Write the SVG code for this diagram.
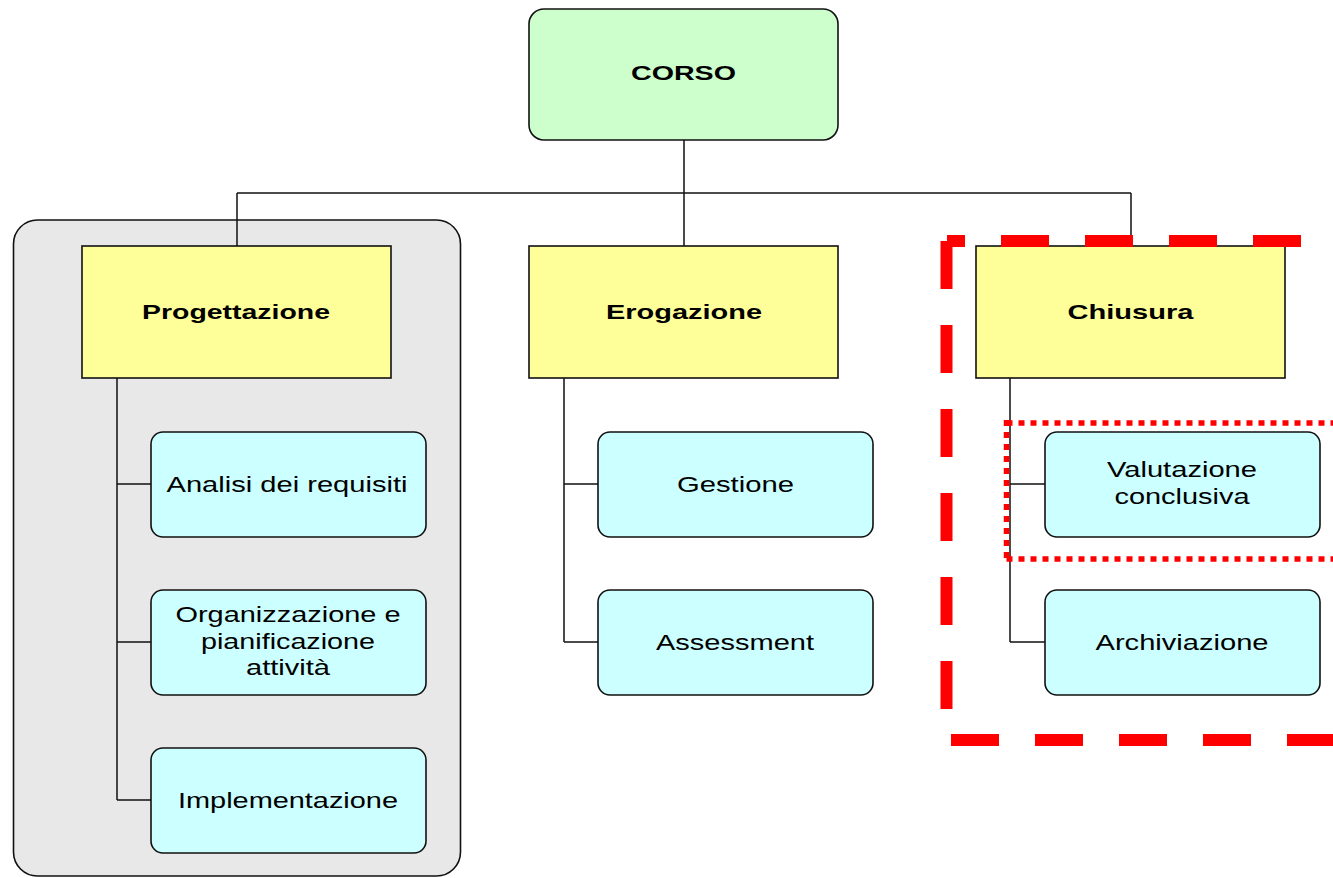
<svg xmlns="http://www.w3.org/2000/svg" width="1333" height="878" viewBox="0 0 1333 878">
<style>
.root{fill:#CCFFCC;stroke:#111;stroke-width:1.6}
.phase{fill:#FFFF99;stroke:#111;stroke-width:1.6}
.task{fill:#CCFFFF;stroke:#111;stroke-width:1.6}
.grp{fill:#E8E8E8;stroke:#111;stroke-width:1.6}
.b{font-family:"Liberation Sans",Arial,sans-serif;font-weight:bold;font-size:21px;fill:#000;text-anchor:middle}
.t{font-family:"Liberation Sans",Arial,sans-serif;font-size:22px;fill:#000;text-anchor:middle}
.conn{fill:none;stroke:#111;stroke-width:1.5}
.dash{fill:none;stroke:#FF0000;stroke-width:12;stroke-dasharray:48 36}
.dot{fill:none;stroke:#FF0000;stroke-width:5.5;stroke-dasharray:6 6}
</style>
<rect x="0" y="0" width="1333" height="878" fill="#FFFFFF"/>
<g id="group-progettazione">
<rect class="grp" x="13.5" y="220" width="447" height="656" rx="24"/>
</g>
<g id="connectors">
<path class="conn" d="M684 140V193M237 193H1131M237 193V246M684 193V246M1131 193V246"/>
<path class="conn" d="M117 378V800M117 484H151M117 642H151M117 800H151"/>
<path class="conn" d="M564 378V642M564 484H598M564 642H598"/>
<path class="conn" d="M1010 378V642M1010 484H1045M1010 642H1045"/>
</g>
<g id="corso">
<rect class="root" x="529" y="9" width="309" height="131" rx="15"/>
<text class="b" x="683.5" y="80" textLength="105" lengthAdjust="spacingAndGlyphs">CORSO</text>
</g>
<g id="progettazione">
<rect class="phase" x="82" y="246" width="309" height="132"/>
<text class="b" x="236" y="318.5" textLength="188" lengthAdjust="spacingAndGlyphs">Progettazione</text>
</g>
<g id="erogazione">
<rect class="phase" x="529" y="246" width="309" height="132"/>
<text class="b" x="684" y="318.5" textLength="156" lengthAdjust="spacingAndGlyphs">Erogazione</text>
</g>
<g id="chiusura">
<rect class="phase" x="976" y="246" width="309" height="132"/>
<text class="b" x="1130.5" y="318.5" textLength="126" lengthAdjust="spacingAndGlyphs">Chiusura</text>
</g>
<g id="analisi">
<rect class="task" x="151" y="432" width="275" height="105" rx="12"/>
<text class="t" x="287" y="492" textLength="241" lengthAdjust="spacingAndGlyphs">Analisi dei requisiti</text>
</g>
<g id="organizzazione">
<rect class="task" x="151" y="590" width="275" height="105" rx="12"/>
<text class="t" x="288" y="622" textLength="225" lengthAdjust="spacingAndGlyphs">Organizzazione e</text>
<text class="t" x="288" y="648.5" textLength="174" lengthAdjust="spacingAndGlyphs">pianificazione</text>
<text class="t" x="288" y="675" textLength="84" lengthAdjust="spacingAndGlyphs">attività</text>
</g>
<g id="implementazione">
<rect class="task" x="151" y="748" width="275" height="105" rx="12"/>
<text class="t" x="288" y="808" textLength="220" lengthAdjust="spacingAndGlyphs">Implementazione</text>
</g>
<g id="gestione">
<rect class="task" x="598" y="432" width="275" height="105" rx="12"/>
<text class="t" x="735.5" y="492" textLength="117" lengthAdjust="spacingAndGlyphs">Gestione</text>
</g>
<g id="assessment">
<rect class="task" x="598" y="590" width="275" height="105" rx="12"/>
<text class="t" x="735" y="650" textLength="158" lengthAdjust="spacingAndGlyphs">Assessment</text>
</g>
<g id="valutazione">
<rect class="task" x="1045" y="432" width="275" height="105" rx="12"/>
<text class="t" x="1182" y="477" textLength="150" lengthAdjust="spacingAndGlyphs">Valutazione</text>
<text class="t" x="1182" y="504" textLength="135" lengthAdjust="spacingAndGlyphs">conclusiva</text>
</g>
<g id="archiviazione">
<rect class="task" x="1045" y="590" width="275" height="105" rx="12"/>
<text class="t" x="1182" y="650" textLength="173" lengthAdjust="spacingAndGlyphs">Archiviazione</text>
</g>
<g id="highlight-chiusura">
<path class="dash" d="M947 241H1340" stroke-dashoffset="30"/>
<path class="dash" d="M946.5 241V740"/>
<path class="dash" d="M951 740H1340"/>
</g>
<g id="highlight-valutazione">
<path class="dot" d="M1006.5 423H1340M1006.5 420V562M1006.5 559H1340"/>
</g>
</svg>
